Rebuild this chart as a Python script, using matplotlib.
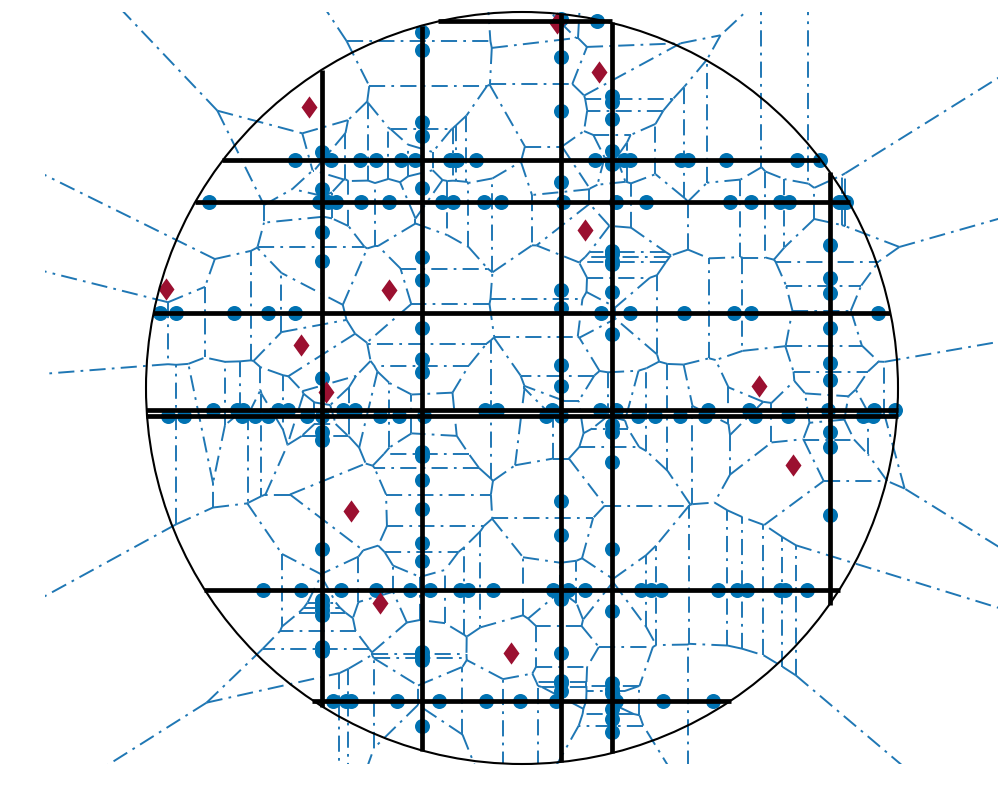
import numpy as np
import matplotlib
matplotlib.use("Agg")
import matplotlib.pyplot as plt
import matplotlib.tri as mtri
from matplotlib.collections import LineCollection
from matplotlib.patches import Circle, Rectangle

# thick lines: position, start, end
row_lines = [(21, 438, 612), (159.5, 222, 820), (202, 195, 850), (313, 153, 890),
             (410, 146, 898), (416, 146, 898), (589.5, 204, 840), (700.5, 312, 731)]
col_lines = [(322, 70, 707), (422, 26, 751), (561, 14, 762), (612, 22, 753), (830, 172, 605)]

# dots sitting on each row (x values)
row_dots = {
    21: [597],
    159.5: [295, 331, 360, 376, 401, 415, 450.5, 455.5, 457, 476, 595, 624, 630, 681, 688, 726, 797, 820],
    202: [209, 319, 328, 336, 361, 389, 442, 453, 484, 501, 563, 616, 646, 730, 751, 780, 789, 839.5, 844, 846.5],
    313: [160, 176, 234, 268, 295, 601, 630, 684, 734, 751, 878],
    410: [213, 237, 243, 278, 288, 343, 355, 485, 497, 552, 600, 616, 708, 749, 828, 874, 895],
    416: [168, 184, 242, 255, 268, 307, 322, 380, 399, 424, 546, 561, 638, 655, 680, 705, 755, 788, 863, 873],
    589.5: [263, 301, 341, 376, 410, 430, 460, 468, 493, 553, 568, 585, 641, 651, 661, 718, 737, 747, 780, 785, 807],
    700.5: [333, 346, 351, 397, 439, 486, 520, 556, 616, 663, 713],
}

# dots sitting on each column (y values)
col_dots = {
    322: [152, 189, 232, 261, 378, 432, 440, 549, 600, 605, 610, 615, 647, 651],
    422: [32, 50, 122, 136, 188, 257, 280, 328, 359, 372, 452, 456, 480, 509, 543, 561, 652, 656, 660, 726],
    561: [19, 57, 111, 182, 290, 308, 365, 386, 501, 535, 599, 653, 681, 683, 691],
    612: [96, 102, 119, 151, 164, 250.5, 253.5, 260.5, 263.5, 292, 334, 425, 432, 462, 549, 611, 683, 689, 693, 709, 719, 732],
    830: [245, 278, 293, 328, 363, 380, 432, 447, 515],
}

diamond_x = [309, 166, 389, 301, 326, 585, 599, 557, 759, 793, 351, 380, 511]
diamond_y = [107, 289, 290, 345, 392, 230, 72, 23, 386, 465, 511, 603, 653]

circle_center = (522, 388)
circle_radius = 376

BLUE_LINE = "#1f77b4"
BLUE_DOT = "#0072b2"
RED = "#9b1030"

dot_x, dot_y = [], []
for y, xs in row_dots.items():
    dot_x += xs
    dot_y += [y] * len(xs)
for x, ys in col_dots.items():
    dot_x += [x] * len(ys)
    dot_y += ys


def voronoi_edges(x, y):
    # ridges of the Voronoi diagram, worked out from the Delaunay triangles
    tri = mtri.Triangulation(x, y)
    t = tri.triangles
    ax_, ay_ = x[t[:, 0]], y[t[:, 0]]
    bx, by = x[t[:, 1]], y[t[:, 1]]
    cx, cy = x[t[:, 2]], y[t[:, 2]]
    d = 2 * (ax_ * (by - cy) + bx * (cy - ay_) + cx * (ay_ - by))
    a2, b2, c2 = ax_**2 + ay_**2, bx**2 + by**2, cx**2 + cy**2
    ux = (a2 * (by - cy) + b2 * (cy - ay_) + c2 * (ay_ - by)) / d
    uy = (a2 * (cx - bx) + b2 * (ax_ - cx) + c2 * (bx - ax_)) / d
    centers = np.column_stack([ux, uy])

    mid = np.array([x.mean(), y.mean()])
    reach = max(np.ptp(x), np.ptp(y)) * 2
    segs = []
    for i, nbrs in enumerate(tri.neighbors):
        for k, n in enumerate(nbrs):
            if n > i:
                segs.append([centers[i], centers[n]])
            elif n == -1:
                p, q = t[i, k], t[i, (k + 1) % 3]
                edge = np.array([x[q] - x[p], y[q] - y[p]])
                normal = np.array([-edge[1], edge[0]]) / np.hypot(*edge)
                edge_mid = np.array([(x[p] + x[q]) / 2, (y[p] + y[q]) / 2])
                if np.dot(edge_mid - mid, normal) < 0:
                    normal = -normal
                segs.append([centers[i], centers[i] + normal * reach])
    return segs


all_x = np.array(dot_x + diamond_x, dtype=float)
all_y = np.array(dot_y + diamond_y, dtype=float)
pts = np.unique(np.column_stack([all_x, all_y]), axis=0)
segments = voronoi_edges(pts[:, 0], pts[:, 1])

fig = plt.figure(figsize=(9.98, 7.98), dpi=100)
ax = fig.add_axes([0, 0, 1, 1])
ax.set_xlim(0, 998)
ax.set_ylim(798, 0)
ax.axis("off")

clip = Rectangle((45, 12), 953, 752, transform=ax.transData)
lc = LineCollection(segments, colors=BLUE_LINE, linewidths=1.4,
                    linestyles=[(0, (8.3, 3.2, 1.4, 3.2))], capstyle="butt", zorder=1)
ax.add_collection(lc)
lc.set_clip_path(clip)

ax.plot(dot_x, dot_y, "o", color=BLUE_DOT, ms=10.8, mew=0, zorder=2)
diamond = [(0, 1), (0.72, 0), (0, -1), (-0.72, 0), (0, 1)]
ax.plot(diamond_x, diamond_y, marker=diamond, ls="none", color=RED, ms=16, mew=0, zorder=3)

ax.add_patch(Circle(circle_center, circle_radius, fill=False, ec="black", lw=1.5, zorder=4))

for y, x0, x1 in row_lines:
    ax.plot([x0, x1], [y, y], color="black", lw=3.4, solid_capstyle="butt", zorder=5)
for x, y0, y1 in col_lines:
    ax.plot([x, x], [y0, y1], color="black", lw=3.4, solid_capstyle="butt", zorder=5)

fig.savefig("out.png", dpi=100)
plt.close(fig)
